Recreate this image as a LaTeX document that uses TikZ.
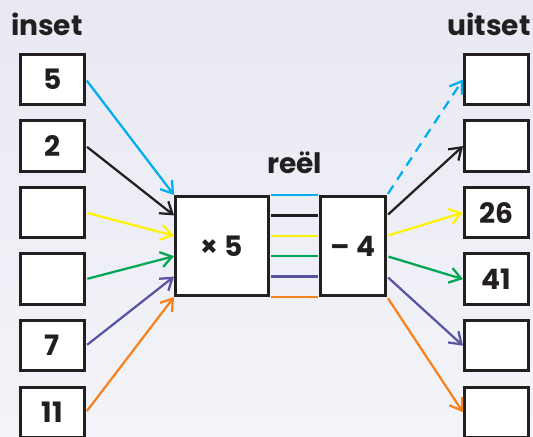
\documentclass[tikz,border=0pt]{standalone}
\usepackage{fontspec}
\setmainfont{Poppins}
\usetikzlibrary{arrows.meta, positioning, calc}

\definecolor{bgtop}{RGB}{233,233,243}
\definecolor{bgbot}{RGB}{243,243,249}
\definecolor{lcyan}{RGB}{0,174,239}
\definecolor{lblack}{RGB}{35,31,32}
\definecolor{lyellow}{RGB}{255,242,0}
\definecolor{lgreen}{RGB}{0,166,81}
\definecolor{lpurple}{RGB}{92,82,163}
\definecolor{lorange}{RGB}{247,130,30}

\begin{document}
\begin{tikzpicture}[
    node distance=0.33cm,
    numbox/.style={rectangle, draw=lblack, fill=white, line width=2.1pt, minimum width=1.6cm, minimum height=1.26cm, inner sep=0pt, text=lblack, font=\fontsize{20}{24}\selectfont\bfseries},
    opbox/.style={numbox, minimum height=2.475cm},
    head/.style={font=\fontsize{20}{24}\selectfont\bfseries, text=lblack, inner sep=0pt, anchor=base},
    arr/.style={-{Straight Barb[length=2.8mm, width=3.8mm]}, line width=1.6pt, shorten <=1pt},
    dashline/.style={dash pattern=on 7pt off 5pt},
    plainline/.style={solid},
]

% background
\fill[top color=bgtop, bottom color=bgbot] (0,0) rectangle (13.325,-10.9);
\useasboundingbox (0,0) rectangle (13.325,-10.9);

% inputs
\node[numbox] (in1) at (1.3125,-1.9875) {5};
\node[numbox, below=of in1] (in2) {2};
\node[numbox, below=of in2] (in3) {};
\node[numbox, below=of in3] (in4) {};
\node[numbox, below=of in4] (in5) {7};
\node[numbox, below=of in5] (in6) {11};

% outputs
\node[numbox] (out1) at (12.4125,-1.9875) {};
\node[numbox, below=of out1] (out2) {};
\node[numbox, below=of out2] (out3) {26};
\node[numbox, below=of out3] (out4) {41};
\node[numbox, below=of out4] (out5) {};
\node[numbox, below=of out5] (out6) {};

% machine
\node[opbox, minimum width=2.325cm] (times) at (5.55,-6.15) {× 5};
\node[opbox, minimum width=1.625cm, right=1.23cm of times] (minus) {– 4};

\node[head] (inlabel) at ($(in1.north)+(-0.14,0.44)$) {inset};
\node[head] (outlabel) at ($(out1.north)+(-0.19,0.44)$) {uitset};
\node[head] (reallabel) at ($(times.north east)!0.5!(minus.north west)+(0,0.55)$) {reël};

\foreach \i/\c/\f/\s in {1/lcyan/0/dashline, 2/lblack/0.2/plainline, 3/lyellow/0.4/plainline,
                         4/lgreen/0.6/plainline, 5/lpurple/0.8/plainline, 6/lorange/1/plainline} {
    \draw[arr, \c] (in\i.east) -- ($(times.north west)!\f!(times.south west)$);
    \draw[\c, line width=1.6pt, shorten <=1pt, shorten >=1pt]
        ($(times.north east)!\f!(times.south east)$) -- ($(minus.north west)!\f!(minus.south west)$);
    \draw[arr, \c, \s] ($(minus.north east)!\f!(minus.south east)$) -- (out\i.west);
}

\end{tikzpicture}
\end{document}
